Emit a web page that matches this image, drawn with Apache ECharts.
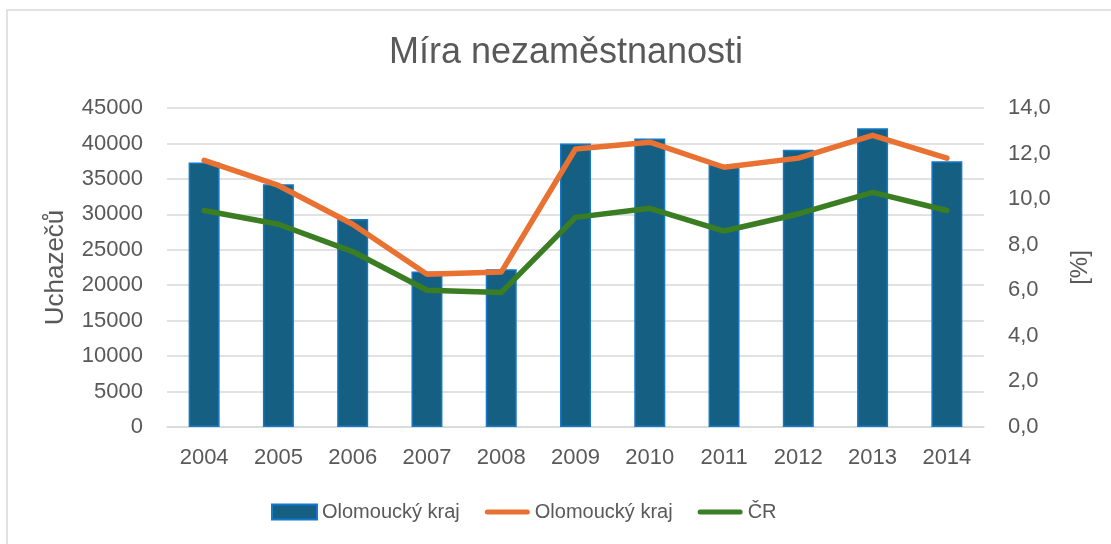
<!DOCTYPE html>
<html>
<head>
<meta charset="utf-8">
<script src="https://cdn.jsdelivr.net/npm/echarts@6/dist/echarts.min.js"></script>
<style>
  html, body { margin: 0; padding: 0; background: #fff; }
  #container { width: 1111px; height: 544px; }
</style>
</head>
<body>
<div id="container"></div>
<script>
var years = ['2004', '2005', '2006', '2007', '2008', '2009', '2010', '2011', '2012', '2013', '2014'];
var uchazeci = [37300, 34250, 29350, 21950, 22250, 40000, 40700, 37000, 39100, 42150, 37500];
var mieraOlomouc = [11.7, 10.6, 8.9, 6.7, 6.8, 12.2, 12.5, 11.4, 11.8, 12.8, 11.8];
var mieraCR = [9.5, 8.9, 7.7, 6.0, 5.9, 9.2, 9.6, 8.6, 9.35, 10.3, 9.5];
var leftTicks = [0, 45000, 5000];
var rightTicks = [0, 14, 2];

var textColor = '#595959';
var fontName = 'Liberation Sans, Arial, sans-serif';
var lineIcon = 'path://M2.5,0 L42.5,0 A2.5,2.5 0 0 1 42.5,5 L2.5,5 A2.5,2.5 0 0 1 2.5,0 Z';

var option = {
    backgroundColor: '#fff',
    textStyle: { fontFamily: fontName },
    graphic: [{
        type: 'rect',
        z: -10,
        shape: { x: 7, y: 10, width: 1200, height: 700 },
        style: { fill: 'none', stroke: '#d9d9d9', lineWidth: 1.5 }
    }, {
        type: 'text',
        x: 566,
        y: 53,
        style: {
            text: 'Míra nezaměstnanosti',
            fill: textColor,
            font: '36px ' + fontName,
            textAlign: 'center',
            textVerticalAlign: 'middle'
        }
    }],
    legend: {
        left: 266,
        top: 497,
        itemWidth: 45,
        itemHeight: 15,
        itemGap: 25,
        textStyle: { color: textColor, fontSize: 20, fontFamily: fontName },
        data: [
            { name: 'Olomoucký kraj', icon: 'rect' },
            { name: 'Olomoucký kraj ', icon: lineIcon },
            { name: 'ČR', icon: lineIcon }
        ],
        formatter: function (name) { return name.trim(); }
    },
    grid: { left: 167, right: 127, top: 108, bottom: 117 },
    xAxis: {
        type: 'category',
        data: years,
        axisTick: { show: false },
        axisLine: { lineStyle: { color: '#d9d9d9', width: 1.5 } },
        axisLabel: { color: textColor, fontSize: 22, margin: 20, fontFamily: fontName }
    },
    yAxis: [{
        type: 'value',
        min: leftTicks[0],
        max: leftTicks[1],
        interval: leftTicks[2],
        name: 'Uchazečů',
        nameLocation: 'middle',
        nameRotate: 90,
        nameGap: 98,
        nameTextStyle: { color: textColor, fontSize: 26, fontFamily: fontName },
        axisLine: { show: false },
        axisTick: { show: false },
        axisLabel: {
            color: textColor, fontSize: 22, margin: 24, fontFamily: fontName,
            formatter: function (v) { return String(v); }
        },
        splitLine: { lineStyle: { color: '#d9d9d9', width: 1.5 } }
    }, {
        type: 'value',
        min: rightTicks[0],
        max: rightTicks[1],
        interval: rightTicks[2],
        name: '[%]',
        nameLocation: 'middle',
        nameRotate: 90,
        nameGap: 84,
        nameTextStyle: { color: textColor, fontSize: 24, fontFamily: fontName },
        axisLine: { show: false },
        axisTick: { show: false },
        splitLine: { show: false },
        axisLabel: {
            color: textColor, fontSize: 22, margin: 24, fontFamily: fontName,
            formatter: function (v) { return v.toFixed(1).replace('.', ','); }
        }
    }],
    series: [{
        name: 'Olomoucký kraj',
        type: 'bar',
        yAxisIndex: 0,
        barWidth: 31,
        data: uchazeci,
        itemStyle: { color: '#156082', borderColor: '#1578C8', borderWidth: 1.5 }
    }, {
        name: 'Olomoucký kraj ',
        type: 'line',
        yAxisIndex: 1,
        symbol: 'none',
        data: mieraOlomouc,
        itemStyle: { color: '#E97132' },
        lineStyle: { color: '#E97132', width: 5.5, cap: 'round', join: 'round' }
    }, {
        name: 'ČR',
        type: 'line',
        yAxisIndex: 1,
        symbol: 'none',
        data: mieraCR,
        itemStyle: { color: '#3A7D22' },
        lineStyle: { color: '#3A7D22', width: 5.5, cap: 'round', join: 'round' }
    }]
};

var myChart = echarts.init(document.getElementById('container'));
myChart.setOption(option);
</script>
</body>
</html>
